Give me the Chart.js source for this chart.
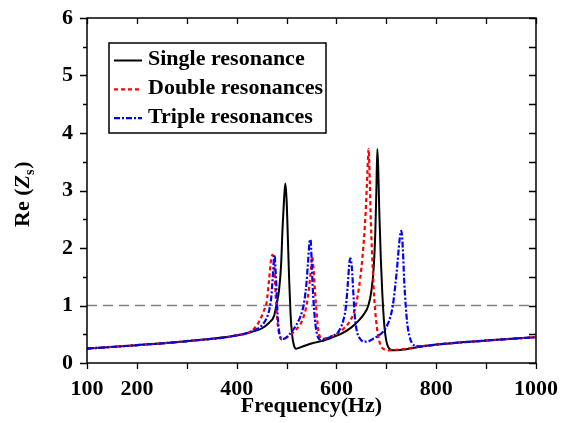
<!DOCTYPE html>
<html lang="en">
<head>
<meta charset="UTF-8" />
<title>Re(Zs) vs Frequency</title>
<script src="https://cdn.jsdelivr.net/npm/chart.js"></script>
<style>
  body { margin: 0; background: #fff; }
  #wrap { width: 561px; height: 423px; position: relative; }
</style>
</head>
<body>
<div id="wrap"><canvas id="zsChart"></canvas></div>
<script>
// Single resonance
const freqSingle = [100, 200, 300, 400, 430, 450, 465, 475, 479, 485, 489, 492, 495, 497.5, 500, 502, 505, 508, 511, 515, 519,
  530, 550, 570, 590, 610, 630, 645, 655, 664, 670, 675, 678, 680, 682, 684, 686, 689, 692, 696, 700, 705, 712, 720,
  740, 760, 800, 900, 1000];
const reSingle = [0.25, 0.31, 0.38, 0.48, 0.54, 0.60, 0.70, 0.82, 0.98, 1.27, 1.70, 2.35, 2.85, 3.12, 2.85, 2.35, 1.50, 0.85, 0.50, 0.30, 0.25,
  0.28, 0.34, 0.38, 0.44, 0.51, 0.62, 0.74, 0.85, 1.00, 1.25, 1.70, 2.30, 3.00, 3.72, 3.30, 2.60, 1.80, 1.20, 0.65, 0.38, 0.26, 0.22, 0.22,
  0.24, 0.27, 0.32, 0.39, 0.45];

// Double resonances
const freqDouble = [100, 200, 300, 400, 430, 445, 455, 460, 465, 469, 472, 475, 478, 482, 486, 490, 497, 505, 519, 532, 540, 545,
  549, 551, 554, 557, 560, 564, 568, 573, 585, 600, 612, 625, 635, 640, 645, 650, 655, 659, 662, 664.5, 667, 669, 673, 676,
  679, 683, 688, 695, 705, 720, 740, 760, 800, 900, 1000];
const reDouble = [0.25, 0.31, 0.38, 0.48, 0.56, 0.72, 0.92, 1.05, 1.45, 1.80, 1.88, 1.75, 1.20, 0.70, 0.48, 0.41, 0.43, 0.47, 0.58, 0.75, 1.00, 1.30,
  1.65, 1.85, 1.65, 1.25, 0.90, 0.55, 0.44, 0.42, 0.45, 0.50, 0.58, 0.70, 0.88, 1.05, 1.30, 1.65, 2.14, 2.70, 3.30, 3.72, 3.10, 2.45, 1.60, 1.10,
  0.78, 0.50, 0.32, 0.24, 0.22, 0.23, 0.25, 0.28, 0.32, 0.39, 0.45];

// Triple resonances
const freqTriple = [100, 200, 300, 400, 430, 450, 460, 466, 470, 473, 476, 478, 480, 482, 485, 490, 495, 505, 515, 525, 532, 536,
  540, 543, 546, 548, 550, 552, 555, 559, 564, 569, 578, 590, 605, 614, 619, 623, 626, 628, 631, 634, 637, 641, 646, 655,
  665, 675, 685, 695, 702, 708, 713, 718, 722, 726, 730, 733, 736, 739, 742, 746, 751, 758, 770, 800, 900, 1000];
const reTriple = [0.25, 0.31, 0.38, 0.48, 0.55, 0.65, 0.78, 0.95, 1.20, 1.60, 1.88, 1.60, 1.25, 0.85, 0.55, 0.43, 0.42, 0.49, 0.60, 0.75, 0.92, 1.10,
  1.40, 1.75, 2.10, 2.15, 1.85, 1.40, 0.95, 0.60, 0.43, 0.40, 0.42, 0.46, 0.56, 0.75, 0.98, 1.40, 1.75, 1.82, 1.65, 1.20, 0.80, 0.55, 0.44, 0.37,
  0.38, 0.43, 0.48, 0.56, 0.66, 0.80, 1.00, 1.35, 1.70, 2.10, 2.30, 2.00, 1.40, 0.98, 0.68, 0.48, 0.35, 0.30, 0.29, 0.32, 0.39, 0.45];

// Re(Zs) = 1 reference line
const refFreq = [100, 1000];
const refValue = [1, 1];

const xLabels = [100, 200, 400, 600, 800, 1000];
const seriesNames = ['Single resonance', 'Double resonances', 'Triple resonances'];

const FONT = "'Liberation Serif', 'Times New Roman', serif";

function toPoints(xs, ys) {
  return xs.map((x, i) => ({ x: x, y: ys[i] }));
}

// frame box plus tick marks (outward on bottom/left, inward on top/right)
const frameTicks = {
  id: 'frameTicks',
  afterDatasetsDraw(chart) {
    const { ctx, chartArea: a, scales: { x, y } } = chart;
    ctx.save();
    ctx.strokeStyle = '#000';
    ctx.lineWidth = 1.5;
    ctx.strokeRect(a.left, a.top, a.right - a.left, a.bottom - a.top);
    ctx.lineWidth = 1.3;
    ctx.beginPath();
    x.ticks.forEach(t => {
      const px = Math.round(x.getPixelForValue(t.value)) + 0.5;
      ctx.moveTo(px, a.bottom); ctx.lineTo(px, a.bottom + 6);
      ctx.moveTo(px, a.top); ctx.lineTo(px, a.top + 6);
    });
    y.ticks.forEach(t => {
      const py = Math.round(y.getPixelForValue(t.value)) + 0.5;
      const len = Number.isInteger(t.value) ? 7 : 4;
      ctx.moveTo(a.left - len, py); ctx.lineTo(a.left, py);
      ctx.moveTo(a.right - 7, py); ctx.lineTo(a.right, py);
    });
    ctx.stroke();
    ctx.restore();
  }
};

// boxed legend in the upper left of the plot
const boxLegend = {
  id: 'boxLegend',
  afterDraw(chart) {
    const ctx = chart.ctx;
    const rows = [0, 1, 2];
    ctx.save();
    ctx.strokeStyle = '#000';
    ctx.lineWidth = 1.5;
    ctx.strokeRect(109, 43, 217, 90);
    ctx.font = 'bold 22px ' + FONT;
    ctx.fillStyle = '#000';
    ctx.textBaseline = 'alphabetic';
    rows.forEach(i => {
      const ds = chart.data.datasets[i];
      const base = 65 + i * 28.8;
      ctx.strokeStyle = ds.borderColor;
      ctx.lineWidth = ds.borderWidth;
      ctx.setLineDash(ds.borderDash || []);
      ctx.beginPath();
      ctx.moveTo(114, base - 4.5);
      ctx.lineTo(142, base - 4.5);
      ctx.stroke();
      ctx.setLineDash([]);
      ctx.fillText(ds.label, 148, base);
    });
    ctx.restore();
  }
};

// rotated y title with italic Z and subscript s
const yTitle = {
  id: 'yTitle',
  afterDraw(chart) {
    const ctx = chart.ctx;
    ctx.save();
    ctx.translate(28.5, 227);
    ctx.rotate(-Math.PI / 2);
    ctx.fillStyle = '#000';
    ctx.textBaseline = 'alphabetic';
    let cx = 0;
    ctx.font = 'bold 22px ' + FONT;
    ctx.fillText('Re (', cx, 0);
    cx += ctx.measureText('Re (').width;
    ctx.font = 'italic bold 22px ' + FONT;
    ctx.fillText('Z', cx, 0);
    cx += ctx.measureText('Z').width;
    ctx.font = 'bold 14px ' + FONT;
    ctx.fillText('s', cx, 5);
    cx += ctx.measureText('s').width + 1;
    ctx.font = 'bold 22px ' + FONT;
    ctx.fillText(')', cx, 0);
    ctx.restore();
  }
};

new Chart(document.getElementById('zsChart'), {
  type: 'line',
  data: {
    datasets: [
      {
        label: seriesNames[0],
        data: toPoints(freqSingle, reSingle),
        borderColor: '#000000',
        borderWidth: 2,
        order: 2
      },
      {
        label: seriesNames[1],
        data: toPoints(freqDouble, reDouble),
        borderColor: '#ff0000',
        borderWidth: 2.2,
        borderDash: [4, 3],
        order: 1
      },
      {
        label: seriesNames[2],
        data: toPoints(freqTriple, reTriple),
        borderColor: '#0000ff',
        borderWidth: 2.2,
        borderDash: [6, 2, 2, 2],
        order: 0
      },
      {
        label: 'ref',
        data: toPoints(refFreq, refValue),
        borderColor: '#808080',
        borderWidth: 1.6,
        borderDash: [10, 6],
        cubicInterpolationMode: 'default',
        order: 3
      }
    ]
  },
  options: {
    responsive: true,
    maintainAspectRatio: false,
    animation: false,
    layout: { padding: { top: 18, right: 25, left: 0, bottom: 0 } },
    elements: {
      point: { radius: 0 },
      line: { cubicInterpolationMode: 'monotone', fill: false }
    },
    scales: {
      x: {
        type: 'linear',
        min: 100,
        max: 1000,
        afterFit: s => { s.height = 60; s.paddingLeft = 0; s.paddingRight = 0; },
        grid: { display: false, drawTicks: false },
        border: { display: false },
        ticks: {
          stepSize: 100,
          autoSkip: false,
          maxRotation: 0,
          padding: 13,
          color: '#000',
          font: { family: FONT, size: 22, weight: 'bold' },
          callback: v => xLabels.includes(v) ? String(v) : ''
        },
        title: {
          display: true,
          text: 'Frequency(Hz)',
          color: '#000',
          padding: { top: 0, bottom: 3 },
          font: { family: FONT, size: 22, weight: 'bold' }
        }
      },
      y: {
        min: 0,
        max: 6,
        afterFit: s => { s.width = 87; s.paddingTop = 0; s.paddingBottom = 0; },
        grid: { display: false, drawTicks: false },
        border: { display: false },
        ticks: {
          stepSize: 0.5,
          autoSkip: false,
          padding: 14,
          color: '#000',
          font: { family: FONT, size: 22, weight: 'bold' },
          callback: v => Number.isInteger(v) ? String(v) : ''
        }
      }
    },
    plugins: {
      legend: { display: false },
      tooltip: { enabled: false }
    }
  },
  plugins: [frameTicks, boxLegend, yTitle]
});
</script>
</body>
</html>
